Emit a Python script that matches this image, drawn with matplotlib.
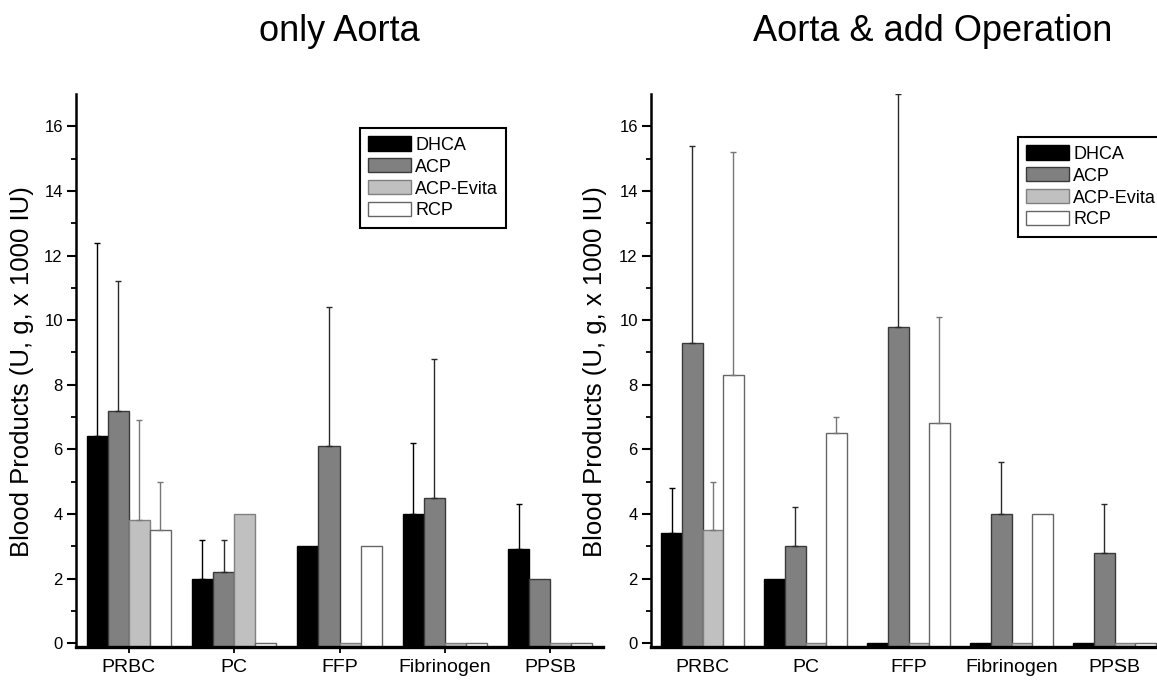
import matplotlib
matplotlib.use('Agg')
import matplotlib.pyplot as plt
import numpy as np

plt.rcParams['font.family'] = ['Liberation Sans', 'DejaVu Sans']

categories = ['PRBC', 'PC', 'FFP', 'Fibrinogen', 'PPSB']
groups = ['DHCA', 'ACP', 'ACP-Evita', 'RCP']

# only Aorta: bar values and top of whisker (None = no whisker)
left_vals = {
    'DHCA':      [6.4, 2.0, 3.0, 4.0, 2.9],
    'ACP':       [7.2, 2.2, 6.1, 4.5, 2.0],
    'ACP-Evita': [3.8, 4.0, 0.0, 0.0, 0.0],
    'RCP':       [3.5, 0.0, 3.0, 0.0, 0.0],
}
left_err = {
    'DHCA':      [12.4, 3.2, None, 6.2, 4.3],
    'ACP':       [11.2, 3.2, 10.4, 8.8, None],
    'ACP-Evita': [6.9, None, None, None, None],
    'RCP':       [5.0, None, None, None, None],
}

# Aorta & add Operation
right_vals = {
    'DHCA':      [3.4, 2.0, 0.0, 0.0, 0.0],
    'ACP':       [9.3, 3.0, 9.8, 4.0, 2.8],
    'ACP-Evita': [3.5, 0.0, 0.0, 0.0, 0.0],
    'RCP':       [8.3, 6.5, 6.8, 4.0, 0.0],
}
right_err = {
    'DHCA':      [4.8, None, None, None, None],
    'ACP':       [15.4, 4.2, 17.0, 5.6, 4.3],
    'ACP-Evita': [5.0, None, None, None, None],
    'RCP':       [15.2, 7.0, 10.1, None, None],
}

face = {'DHCA': 'black', 'ACP': '#808080', 'ACP-Evita': '#c0c0c0', 'RCP': 'white'}
edge = {'DHCA': 'black', 'ACP': '#3a3a3a', 'ACP-Evita': '#808080', 'RCP': '#666666'}
whisk = {'DHCA': 'black', 'ACP': '#2a2a2a', 'ACP-Evita': '#777777', 'RCP': '#777777'}

W, H = 1157, 685
fig = plt.figure(figsize=(W / 100, H / 100), dpi=100)

y0, y1 = -0.12, 17.0


def panel(rect, vals, errs, show_xticks):
    ax = fig.add_axes(rect)
    x = np.arange(1, len(categories) + 1)
    for i, g in enumerate(groups):
        xs = x + (i - 1.5) * 0.2
        v = np.array(vals[g])
        ax.bar(xs, v - y0, bottom=y0, width=0.2, color=face[g],
               edgecolor=edge[g], linewidth=1.0, label=g, zorder=2)
        for xx, vv, ee in zip(xs, v, errs[g]):
            if ee is None:
                continue
            ax.errorbar([xx], [vv], yerr=[[0], [ee - vv]], fmt='none',
                        ecolor=whisk[g], elinewidth=1.0, capsize=2.5,
                        capthick=1.0, zorder=3)
    ax.set_xlim(0.5, 5.5)
    ax.set_ylim(y0, y1)
    ax.set_yticks(np.arange(0, 17, 2))
    ax.set_yticks(np.arange(1, 17, 2), minor=True)
    ax.set_xticks(x)
    ax.set_xticklabels(categories, fontsize=14)
    for s in ('top', 'right'):
        ax.spines[s].set_visible(False)
    ax.spines['left'].set_linewidth(1.8)
    ax.spines['bottom'].set_linewidth(2.4)
    ax.tick_params(axis='y', which='major', length=6.5, width=1.5,
                   labelsize=12, pad=3)
    ax.tick_params(axis='y', which='minor', length=3.3, width=1.3)
    if show_xticks:
        ax.tick_params(axis='x', length=4, width=1.3, pad=4.5)
    else:
        ax.tick_params(axis='x', length=0, pad=9)
    return ax


bottom = 38 / H
height = 553 / H
axL = panel([76 / W, bottom, 527 / W, height], left_vals, left_err, True)
axR = panel([651 / W, bottom, 515 / W, height], right_vals, right_err, False)

for ax, anchor in ((axL, (360 / W, 1 - 128 / H)), (axR, (1018 / W, 1 - 137 / H))):
    leg = ax.legend(loc='upper left', bbox_to_anchor=anchor,
                    bbox_transform=fig.transFigure,
                    prop={'size': 13},
                    fancybox=False, framealpha=1, edgecolor='black',
                    handlelength=2.35, handleheight=0.85, labelspacing=0.25,
                    handletextpad=0.25, borderpad=0.45, borderaxespad=0)
    leg.get_frame().set_linewidth(1.5)

fig.text(339 / W, 1 - 41 / H, 'only Aorta', ha='center', va='baseline',
         fontsize=26)
fig.text(933 / W, 1 - 41 / H, 'Aorta & add Operation', ha='center',
         va='baseline', fontsize=26)

ylab = 'Blood Products (U, g, x 1000 IU)'
fig.text(22 / W, 1 - 372 / H, ylab, rotation=90, ha='center', va='center',
         fontsize=18.5)
fig.text(595 / W, 1 - 372 / H, ylab, rotation=90, ha='center', va='center',
         fontsize=18.5)

fig.savefig('out.png', dpi=100)
